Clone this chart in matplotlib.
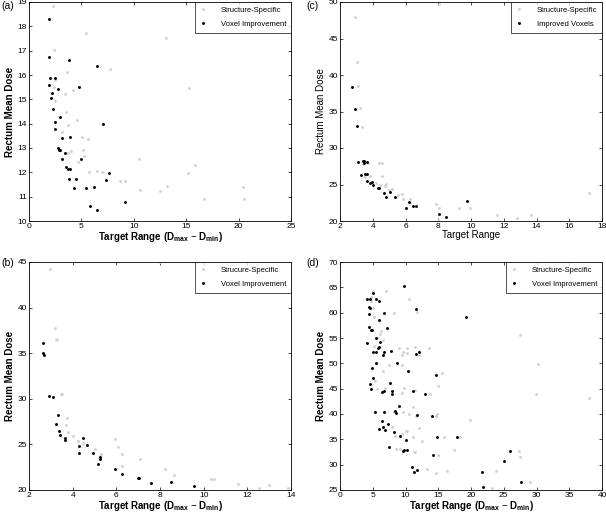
import numpy as np
import matplotlib.pyplot as plt

plt.rcParams['font.family'] = ['Liberation Sans', 'DejaVu Sans']
plt.rcParams['mathtext.fontset'] = 'custom'
plt.rcParams['mathtext.rm'] = 'Liberation Sans'
plt.rcParams['mathtext.bf'] = 'Liberation Sans:bold'

# (a) structure-specific vs voxel improvement
a_sx = [2.29, 5.48, 2.35, 7.71, 3.61, 2.52, 2.35, 4.19, 3.39, 2.48, 3.55, 4.61, 3.68, 3.16,
        5.03, 5.65, 3.97, 5.13, 3.68, 5.29, 4.68, 5.77, 6.45, 6.97, 8.71, 9.13, 10.45, 10.61,
        12.52, 13.12, 15.22, 15.80, 15.16, 13.18, 16.72, 20.38, 20.51]
a_sy = [18.84, 17.74, 17.04, 16.23, 16.11, 15.80, 15.52, 15.38, 15.21, 14.95, 14.49, 14.16, 13.95, 13.66,
        13.47, 13.38, 12.88, 12.90, 12.79, 12.69, 12.43, 12.02, 12.07, 12.02, 11.65, 11.65, 12.54, 11.26,
        11.25, 17.52, 15.46, 12.32, 11.98, 11.45, 10.92, 11.40, 10.91]
a_vx = [1.91, 1.94, 3.79, 6.50, 2.04, 2.45, 1.94, 2.74, 4.81, 2.23, 2.10, 2.29, 2.99, 2.45, 7.04,
        2.45, 3.89, 3.18, 2.80, 2.87, 2.99, 3.47, 3.12, 4.97, 3.57, 3.76, 3.95, 7.68, 3.85, 4.46,
        7.36, 4.30, 5.41, 6.24, 9.13, 5.86, 6.53]
a_vy = [18.31, 16.76, 16.60, 16.38, 15.86, 15.89, 15.58, 15.43, 15.52, 15.25, 15.06, 14.61, 14.27, 14.07, 13.99,
        13.80, 13.47, 13.43, 13.02, 12.90, 12.90, 12.81, 12.55, 12.55, 12.20, 12.14, 12.14, 11.99, 11.74, 11.74,
        11.69, 11.37, 11.37, 11.41, 10.77, 10.63, 10.45]

# (c) structure-specific vs improved voxels
c_sx = [2.94, 8.02, 3.02, 3.12, 3.24, 3.36, 3.40, 3.71, 4.38, 4.58, 3.83, 3.55, 4.54, 4.20, 4.42,
        4.72, 4.81, 4.97, 5.15, 5.52, 5.78, 5.84, 6.27, 6.29, 7.88, 8.04, 9.26, 9.93, 8.00,
        11.58, 12.80, 13.69, 17.21]
c_sy = [47.9, 49.77, 41.83, 38.54, 35.48, 32.92, 27.8, 27.9, 27.9, 27.95, 26.1, 26.0, 26.2, 25.25, 24.88,
        24.75, 25.07, 24.29, 24.43, 23.56, 23.65, 23.06, 23.06, 22.51, 22.37, 21.74, 21.74, 21.83, 20.18,
        20.87, 20.37, 20.87, 23.84]
c_vx = [2.71, 2.91, 3.02, 3.12, 3.38, 3.46, 3.44, 3.65, 3.30, 3.50, 3.65, 3.63, 3.83, 3.95, 4.01,
        4.30, 4.36, 4.66, 4.83, 5.05, 5.33, 6.03, 6.21, 6.43, 6.64, 8.04, 8.49, 9.77]
c_vy = [38.31, 35.39, 33.06, 28.04, 28.17, 28.17, 27.9, 28.04, 26.26, 26.39, 26.39, 25.52, 25.16, 25.3, 24.98,
        24.57, 24.57, 23.79, 23.33, 23.93, 23.33, 21.83, 22.65, 22.01, 22.01, 20.91, 20.55, 22.69]

# (b)
b_sx = [2.95, 3.18, 3.24, 3.30, 3.45, 3.51, 3.76, 3.68, 3.77, 4.02, 4.26, 4.49, 5.03, 5.29, 5.32,
        5.94, 6.07, 6.26, 6.28, 7.07, 7.98, 8.21, 8.66, 10.33, 10.48, 11.58, 12.55, 13.01, 13.85]
b_sy = [44.23, 37.81, 36.57, 36.42, 30.55, 30.55, 27.92, 27.08, 26.35, 25.88, 25.36, 25.18, 24.52, 23.9, 23.9,
        25.55, 24.71, 23.94, 22.66, 23.43, 44.96, 22.33, 21.68, 21.24, 21.24, 20.66, 20.22, 20.55, 20.26]
b_vx = [2.63, 2.66, 2.69, 2.90, 3.09, 3.31, 3.25, 3.36, 3.41, 3.64, 3.65, 4.49, 4.29, 4.64, 4.28,
        4.95, 5.26, 5.27, 5.18, 5.93, 6.26, 7.01, 7.06, 7.58, 8.51, 9.55]
b_vy = [36.17, 35.0, 34.78, 30.36, 30.22, 28.18, 27.19, 26.46, 26.02, 25.66, 25.44, 25.73, 24.78, 24.93, 24.09,
        24.09, 23.6, 23.4, 22.85, 22.26, 21.72, 21.35, 21.3, 20.73, 20.84, 20.4]

# (d)
d_sx = [5.08, 7.06, 10.57, 5.08, 4.78, 4.73, 8.28, 11.79, 5.13, 6.25, 6.15, 5.59, 6.50, 5.18, 6.05,
        8.95, 10.17, 11.39, 11.99, 12.05, 13.62, 9.56, 10.27, 9.45, 7.52, 9.40, 6.50, 15.55, 14.90,
        5.29, 5.64, 9.70, 9.45, 11.39, 13.77, 6.81, 11.13, 8.23, 9.56, 10.57, 11.54, 14.84, 14.64,
        19.92, 12.05, 10.22, 9.45, 10.06, 8.44, 11.13, 15.86, 7.93, 12.45, 8.54, 9.20, 11.49, 11.23,
        17.33, 14.94, 13.32, 14.64, 16.32, 18.35, 27.50, 30.29, 29.94, 38.07, 27.29, 27.45, 23.79,
        23.28, 29.07]
d_sy = [64.3, 64.3, 62.6, 61.0, 63.0, 62.4, 59.95, 60.2, 59.2, 56.3, 55.7, 55.0, 54.6, 53.5, 53.2,
        53.0, 53.0, 53.2, 52.5, 51.7, 53.1, 52.3, 52.1, 51.6, 49.7, 49.6, 48.45, 48.05, 45.6,
        46.6, 44.9, 45.1, 44.2, 44.7, 43.9, 45.2, 41.3, 40.4, 40.4, 40.0, 39.6, 40.0, 39.6,
        38.8, 37.2, 36.6, 36.1, 36.6, 35.7, 35.4, 35.4, 37.5, 34.6, 33.1, 33.1, 32.5, 32.5,
        32.8, 31.95, 29.2, 28.35, 28.8, 35.5, 55.5, 49.96, 43.85, 43.06, 32.75, 31.5, 28.8,
        25.45, 26.6]
d_vx = [9.76, 4.17, 4.63, 5.54, 6.00, 4.98, 4.42, 4.52, 11.59, 5.90, 4.42, 6.76, 4.37, 4.83, 4.73,
        7.22, 5.54, 4.17, 6.10, 5.74, 5.95, 7.83, 5.54, 6.71, 4.98, 6.50, 11.64, 12.10, 5.49, 8.64,
        10.37, 4.88, 5.03, 14.64, 4.63, 4.73, 7.62, 6.40, 6.76, 7.90, 8.00, 11.13, 13.01, 5.39, 6.71,
        9.00, 8.34, 8.49, 11.74, 14.08, 6.40, 6.56, 7.27, 6.00, 6.81, 8.28, 9.15, 10.01, 14.74, 7.52,
        9.71, 9.60, 10.22, 14.18, 11.03, 11.69, 11.23, 25.92, 25.00, 21.70, 21.80, 27.65, 19.30, 17.89]
d_vy = [65.2, 62.7, 62.6, 62.6, 62.3, 63.8, 61.06, 60.87, 60.73, 58.6, 59.75, 59.88, 57.1, 56.5, 56.6,
        57.06, 55.0, 54.03, 54.2, 53.0, 53.3, 52.5, 52.3, 52.2, 52.33, 51.7, 51.9, 52.2, 50.1, 50.1,
        48.45, 49.0, 47.2, 47.7, 45.9, 45.0, 46.1, 44.3, 44.6, 44.6, 43.9, 44.6, 43.9, 40.3, 40.3,
        41.6, 40.6, 40.2, 39.9, 39.7, 38.6, 37.4, 38.1, 37.0, 36.9, 36.4, 35.7, 34.8, 35.5, 33.4,
        32.8, 32.6, 32.9, 31.95, 29.6, 29.0, 28.6, 32.75, 30.8, 28.6, 25.6, 26.6, 59.1, 35.5]

fig = plt.figure(figsize=(6.06, 5.12), dpi=100)
W, H = 606.0, 512.0


def make_ax(l, t, r, b):
    return fig.add_axes([l / W, 1 - b / H, (r - l) / W, (b - t) / H])


def panel(ax, sx, sy, vx, vy, lab1, lab2, xlim, xt, ylim, yt, xlabel, bold, tag, tagx, tagy):
    ax.plot(sx, sy, '.', color='#d2d2d2', ms=2.2, label=lab1)
    ax.plot(vx, vy, '.', color='black', ms=2.2, label=lab2)
    ax.set_xlim(xlim)
    ax.set_ylim(ylim)
    ax.set_xticks(xt)
    ax.set_yticks(yt)
    ax.tick_params(direction='in', top=True, right=True, length=2.5, width=0.5,
                   labelsize=6, pad=1.5)
    for s in ax.spines.values():
        s.set_linewidth(0.6)
    w = 'bold' if bold else 'normal'
    ax.set_xlabel(xlabel, fontsize=7, fontweight=w, labelpad=0)
    ax.set_ylabel('Rectum Mean Dose', fontsize=7, fontweight=w, labelpad=2)
    leg = ax.legend(loc='upper right', fontsize=5.5, frameon=True, fancybox=False,
                    borderaxespad=0, handlelength=1.0, handletextpad=1.8,
                    borderpad=0.6, labelspacing=0.9, markerscale=1.0)
    leg.get_frame().set_edgecolor('black')
    leg.get_frame().set_linewidth(0.6)
    fig.text(tagx / W, 1 - tagy / H, tag, fontsize=7.5, ha='left', va='center')


xl_bold = r'Target Range (D$_{\mathbf{max}}$ $-$ D$_{\mathbf{min}}$)'

panel(make_ax(29, 2, 291, 221), a_sx, a_sy, a_vx, a_vy, 'Structure-Specific', 'Voxel Improvement',
      (0, 25), np.arange(0, 26, 5), (10, 19), np.arange(10, 20, 1), xl_bold, True, '(a)', 1, 6)
panel(make_ax(340, 2, 602, 221), c_sx, c_sy, c_vx, c_vy, 'Structure-Specific', 'Improved Voxels',
      (2, 18), np.arange(2, 19, 2), (20, 50), np.arange(20, 51, 5), 'Target Range', False, '(c)', 306, 6)
panel(make_ax(29, 262, 291, 490), b_sx, b_sy, b_vx, b_vy, 'Strucure-Specific', 'Voxel Improvement',
      (2, 14), np.arange(2, 15, 2), (20, 45), np.arange(20, 46, 5), xl_bold, True, '(b)', 1, 263)
panel(make_ax(340, 262, 602, 490), d_sx, d_sy, d_vx, d_vy, 'Structure-Specific', 'Voxel Improvement',
      (0, 40), np.arange(0, 41, 5), (25, 70), np.arange(25, 71, 5), xl_bold, True, '(d)', 306, 263)

fig.savefig('out.png', dpi=100)
